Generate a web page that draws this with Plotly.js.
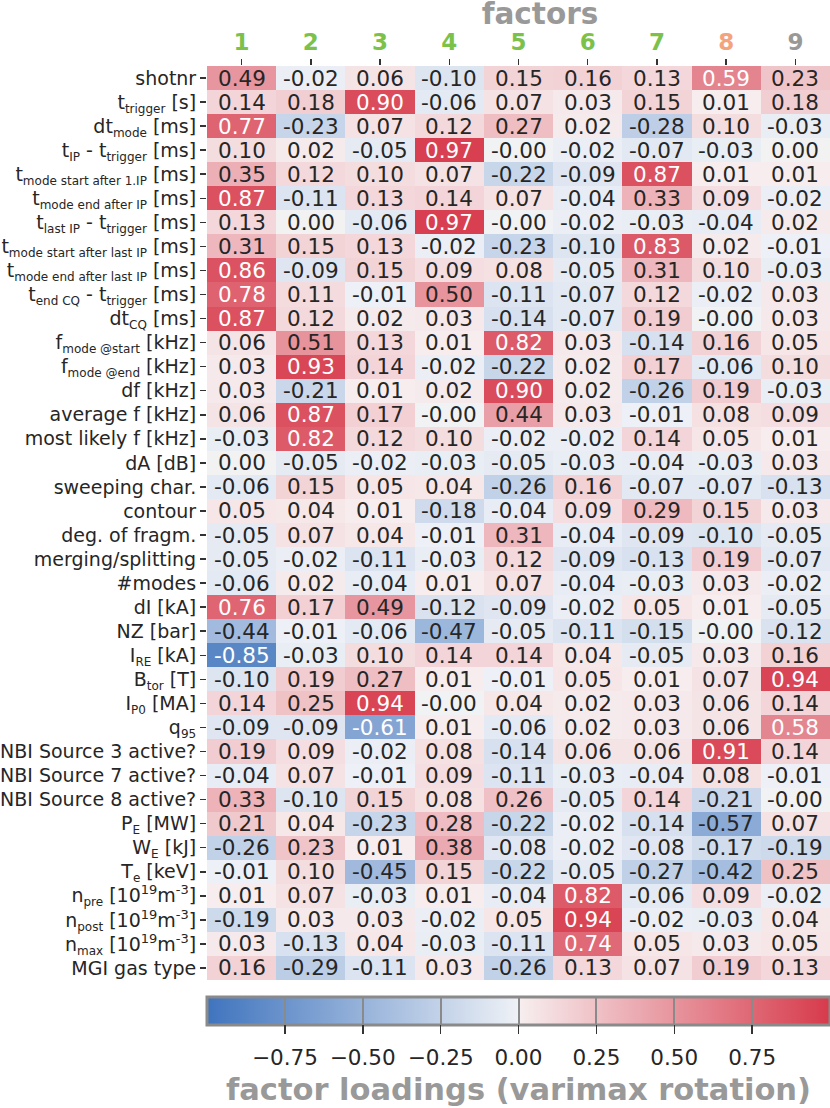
<!DOCTYPE html>
<html>
<head>
<meta charset="utf-8">
<script src="https://cdn.plot.ly/plotly-3.0.1.min.js"></script>
<style>html,body{margin:0;padding:0;background:#fff;}#chart{width:830px;height:1108px;}</style>
</head>
<body>
<div id="chart"></div>
<script>
// factor labels and colors
const factorLabels = ['1','2','3','4','5','6','7','8','9'];
const factorColors = ['#7cc24a','#7cc24a','#7cc24a','#7cc24a','#7cc24a','#7cc24a','#7cc24a','#f4a47c','#999999'];

// variable (row) labels
const variables = [
  'shotnr',
  't<sub>trigger</sub> [s]',
  'dt<sub>mode</sub> [ms]',
  't<sub>IP</sub> - t<sub>trigger</sub> [ms]',
  't<sub>mode start after 1.IP</sub> [ms]',
  't<sub>mode end after IP</sub> [ms]',
  't<sub>last IP</sub> - t<sub>trigger</sub> [ms]',
  't<sub>mode start after last IP</sub> [ms]',
  't<sub>mode end after last IP</sub> [ms]',
  't<sub>end CQ</sub> - t<sub>trigger</sub> [ms]',
  'dt<sub>CQ</sub> [ms]',
  'f<sub>mode @start</sub> [kHz]',
  'f<sub>mode @end</sub> [kHz]',
  'df [kHz]',
  'average f [kHz]',
  'most likely f [kHz]',
  'dA [dB]',
  'sweeping char.',
  'contour',
  'deg. of fragm.',
  'merging/splitting',
  '#modes',
  'dI [kA]',
  'NZ [bar]',
  'I<sub>RE</sub> [kA]',
  'B<sub>tor</sub> [T]',
  'I<sub>P0</sub> [MA]',
  'q<sub>95</sub>',
  'NBI Source 3 active?',
  'NBI Source 7 active?',
  'NBI Source 8 active?',
  'P<sub>E</sub> [MW]',
  'W<sub>E</sub> [kJ]',
  'T<sub>e</sub> [keV]',
  'n<sub>pre</sub> [10<sup>19</sup>m<sup>-3</sup>]',
  'n<sub>post</sub> [10<sup>19</sup>m<sup>-3</sup>]',
  'n<sub>max</sub> [10<sup>19</sup>m<sup>-3</sup>]',
  'MGI gas type'
];

// factor loadings, one array per factor (column), rows in order of `variables`
const factor1 = [0.49,0.14,0.77,0.10,0.35,0.87,0.13,0.31,0.86,0.78,0.87,0.06,0.03,0.03,0.06,-0.03,0.00,-0.06,0.05,-0.05,-0.05,-0.06,0.76,-0.44,-0.85,-0.10,0.14,-0.09,0.19,-0.04,0.33,0.21,-0.26,-0.01,0.01,-0.19,0.03,0.16];
const factor2 = [-0.02,0.18,-0.23,0.02,0.12,-0.11,0.00,0.15,-0.09,0.11,0.12,0.51,0.93,-0.21,0.87,0.82,-0.05,0.15,0.04,0.07,-0.02,0.02,0.17,-0.01,-0.03,0.19,0.25,-0.09,0.09,0.07,-0.10,0.04,0.23,0.10,0.07,0.03,-0.13,-0.29];
const factor3 = [0.06,0.90,0.07,-0.05,0.10,0.13,-0.06,0.13,0.15,-0.01,0.02,0.13,0.14,0.01,0.17,0.12,-0.02,0.05,0.01,0.04,-0.11,-0.04,0.49,-0.06,0.10,0.27,0.94,-0.61,-0.02,-0.01,0.15,-0.23,0.01,-0.45,-0.03,0.03,0.04,-0.11];
const factor4 = [-0.10,-0.06,0.12,0.97,0.07,0.14,0.97,-0.02,0.09,0.50,0.03,0.01,-0.02,0.02,-0.001,0.10,-0.03,0.04,-0.18,-0.01,-0.03,0.01,-0.12,-0.47,0.14,0.01,-0.001,0.01,0.08,0.09,0.08,0.28,0.38,0.15,0.01,-0.02,-0.03,0.03];
const factor5 = [0.15,0.07,0.27,-0.001,-0.22,0.07,-0.001,-0.23,0.08,-0.11,-0.14,0.82,-0.22,0.90,0.44,-0.02,-0.05,-0.26,-0.04,0.31,0.12,0.07,-0.09,-0.05,0.14,-0.01,0.04,-0.06,-0.14,-0.11,0.26,-0.22,-0.08,-0.22,-0.04,0.05,-0.11,-0.26];
const factor6 = [0.16,0.03,0.02,-0.02,-0.09,-0.04,-0.02,-0.10,-0.05,-0.07,-0.07,0.03,0.02,0.02,0.03,-0.02,-0.03,0.16,0.09,-0.04,-0.09,-0.04,-0.02,-0.11,0.04,0.05,0.02,0.02,0.06,-0.03,-0.05,-0.02,-0.02,-0.05,0.82,0.94,0.74,0.13];
const factor7 = [0.13,0.15,-0.28,-0.07,0.87,0.33,-0.03,0.83,0.31,0.12,0.19,-0.14,0.17,-0.26,-0.01,0.14,-0.04,-0.07,0.29,-0.09,-0.13,-0.03,0.05,-0.15,-0.05,0.01,0.03,0.03,0.06,-0.04,0.14,-0.14,-0.08,-0.27,-0.06,-0.02,0.05,0.07];
const factor8 = [0.59,0.01,0.10,-0.03,0.01,0.09,-0.04,0.02,0.10,-0.02,-0.001,0.16,-0.06,0.19,0.08,0.05,-0.03,-0.07,0.15,-0.10,0.19,0.03,0.01,-0.001,0.03,0.07,0.06,0.06,0.91,0.08,-0.21,-0.57,-0.17,-0.42,0.09,-0.03,0.03,0.19];
const factor9 = [0.23,0.18,-0.03,0.00,0.01,-0.02,0.02,-0.01,-0.03,0.03,0.03,0.05,0.10,-0.03,0.09,0.01,0.03,-0.13,0.03,-0.05,-0.07,-0.02,-0.05,-0.12,0.16,0.94,0.14,0.58,0.14,-0.01,-0.001,0.07,-0.19,0.25,-0.02,0.04,0.05,0.13];

// colorbar ticks
const cbTickVals = [-0.75,-0.5,-0.25,0,0.25,0.5,0.75];
const cbTickText = ['\u22120.75','\u22120.50','\u22120.25','0.00','0.25','0.50','0.75'];

const columns = [factor1,factor2,factor3,factor4,factor5,factor6,factor7,factor8,factor9];
const xIdx = factorLabels.map((_, j) => j);
const yIdx = variables.map((_, i) => i);
const z = variables.map((_, i) => columns.map(col => col[i]));

// smaller subscripts, as in the reference
const styledLabels = variables.map(s =>
  s.replace(/<sub>(.*?)<\/sub>/g, '<sub><span style="font-size:12px">$1</span></sub>')
   .replace(/<sup>(.*?)<\/sup>/g, '<sup><span style="font-size:13px">$1</span></sup>'));

const colorscale = [
  [0, '#3f74be'],
  [0.498, '#eef1f6'],
  [0.5, '#f2f2f2'],
  [0.502, '#f7eeef'],
  [1, '#d73a4b']
];
const clear = [[0, 'rgba(0,0,0,0)'], [1, 'rgba(0,0,0,0)']];

const cbBase = {
  orientation: 'h',
  x: 0.5, xanchor: 'center', xref: 'paper',
  len: 1, lenmode: 'fraction', xpad: 0,
  y: -0.0186, yanchor: 'top', yref: 'paper', ypad: 0,
  thickness: 28,
  tickmode: 'array', tickvals: cbTickVals
};

const heat = {
  type: 'heatmap',
  x: xIdx, y: yIdx, z: z,
  zmin: -1, zmax: 1,
  colorscale: colorscale,
  hoverinfo: 'skip',
  colorbar: Object.assign({}, cbBase, {
    outlinewidth: 3, outlinecolor: '#8a8a8a',
    ticktext: cbTickText,
    ticks: 'outside', ticklen: 13, tickwidth: 1, tickcolor: 'rgba(0,0,0,0)',
    tickfont: {family: 'DejaVu Sans', size: 21.5, color: '#262626'},
    title: {text: 'factor loadings (varimax rotation)', side: 'bottom',
            font: {family: 'DejaVu Sans', size: 30.5, color: '#999999', weight: 'bold'}}
  })
};

// transparent overlay whose colorbar draws the grid lines inside the bar
const gridOverlay = {
  type: 'heatmap',
  x: xIdx, y: yIdx, z: z,
  zmin: -1, zmax: 1,
  colorscale: clear,
  hoverinfo: 'skip',
  colorbar: Object.assign({}, cbBase, {
    outlinewidth: 0,
    showticklabels: false,
    ticks: 'inside', ticklen: 27, tickwidth: 2, tickcolor: '#8a8a8a'
  })
};

// transparent overlay whose colorbar draws the short dark ticks below the bar
const tickOverlay = {
  type: 'heatmap',
  x: xIdx, y: yIdx, z: z,
  zmin: -1, zmax: 1,
  colorscale: clear,
  hoverinfo: 'skip',
  colorbar: Object.assign({}, cbBase, {
    outlinewidth: 0,
    showticklabels: false,
    ticks: 'outside', ticklen: 9, tickwidth: 1.5, tickcolor: '#333'
  })
};

const annotations = [];
yIdx.forEach(i => {
  xIdx.forEach(j => {
    const v = columns[j][i];
    const white = (v >= 0.55 || v <= -0.6);
    annotations.push({
      x: j, y: i, xref: 'x', yref: 'y',
      text: v.toFixed(2),
      showarrow: false,
      font: {family: 'DejaVu Sans', size: 21.5, color: white ? '#ffffff' : '#262626'}
    });
  });
});

const layout = {
  width: 830, height: 1108,
  margin: {l: 207, r: 0, t: 66, b: 128, pad: 0},
  paper_bgcolor: '#ffffff', plot_bgcolor: '#ffffff',
  font: {family: 'DejaVu Sans', color: '#262626'},
  title: {
    text: 'factors', x: 0.5345, xref: 'paper', xanchor: 'center',
    y: 0.9875, yref: 'container', yanchor: 'middle',
    font: {family: 'DejaVu Sans', size: 29.5, color: '#999999', weight: 'bold'}
  },
  xaxis: {
    side: 'top', range: [-0.5, 8.5], fixedrange: true,
    tickmode: 'array', tickvals: xIdx,
    ticktext: factorLabels.map((t, j) => '<span style="color:' + factorColors[j] + '">' + t + '</span>'),
    tickfont: {family: 'DejaVu Sans', size: 23, weight: 'bold'},
    ticks: 'outside', ticklen: 6, tickwidth: 1.5, tickcolor: '#333',
    ticklabelstandoff: 0,
    showgrid: false, zeroline: false, showline: false, automargin: false
  },
  yaxis: {
    range: [variables.length - 0.5, -0.5], fixedrange: true,
    tickmode: 'array', tickvals: yIdx, ticktext: styledLabels,
    tickfont: {family: 'DejaVu Sans', size: 19, color: '#262626'},
    ticks: 'outside', ticklen: 6, tickwidth: 1.5, tickcolor: '#333',
    showgrid: false, zeroline: false, showline: false, automargin: false
  },
  annotations: annotations
};

Plotly.newPlot('chart', [heat, gridOverlay, tickOverlay], layout, {displayModeBar: false, staticPlot: true});
</script>
</body>
</html>
